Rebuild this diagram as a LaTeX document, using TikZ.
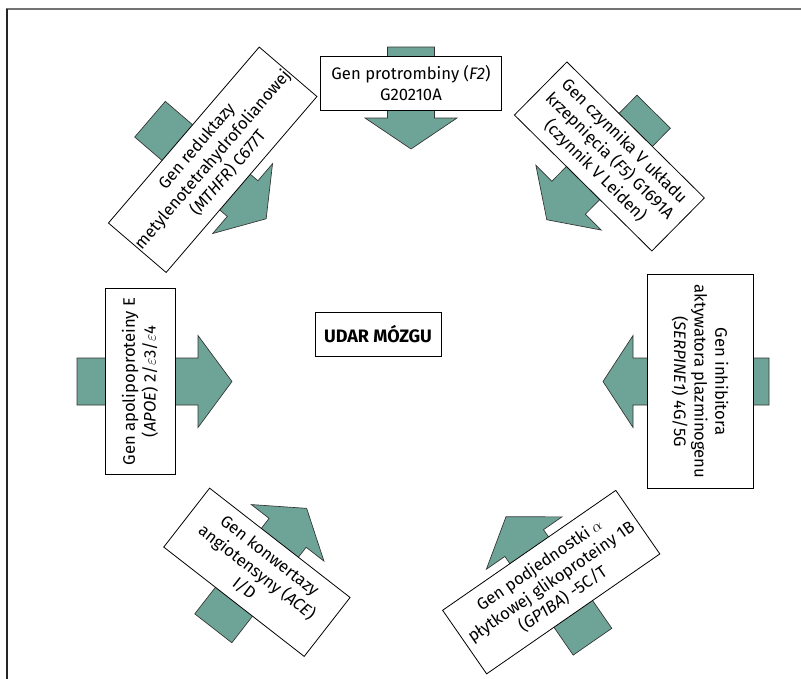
\documentclass[tikz,border=0pt]{standalone}
\usepackage{amsmath}
\usepackage{amssymb}
\usepackage{fontspec}
\setmainfont{Fira Sans}
\usepackage{tikz}

\definecolor{genteal}{RGB}{110,164,151}

% arrow through a gene box: #1 length, #2 head length
\newcommand{\genshape}[2]{\draw [arrowshape] (0,-23.5) -- ({#1-#2},-23.5) -- ({#1-#2},-46) -- (#1,0) -- ({#1-#2},46) -- ({#1-#2},23.5) -- (0,23.5) -- cycle ;}

\begin{document}
\begin{tikzpicture}[x=0.75pt,y=0.75pt,yscale=-1,
  arrowshape/.style={draw=black!80, line width=0.5pt, fill=genteal},
  genbox/.style={draw, line width=0.6pt, fill=white, align=center, inner sep=1pt, font=\fontsize{12.5}{15.5}\selectfont}]
\useasboundingbox (0,0) rectangle (801,679);

%Shape: Frame
\draw [color=black!55, line width=1.2pt] (6,9) -- (801,9) ;
\draw [color=black!85, line width=0.8pt] (7,9) -- (7,679) ;

% Text Node
\node [draw, line width=0.6pt, minimum width=94.5pt, minimum height=33pt, font=\bfseries\fontsize{13.5}{15}\selectfont] (udar) at (378,334) {UDAR MÓZGU};

%Shape: Arrow F2
\begin{scope}[shift={(411,47)}, rotate=90]
\genshape{102}{31}
% Text Node
\node [genbox, minimum width=135.75pt, minimum height=40.5pt] (f2) at (36,0) {Gen protrombiny (\textit{F2})\\G20210A};
\end{scope}

%Shape: Arrow MTHFR
\begin{scope}[shift={(150,119.2)}, rotate=40.6]
\genshape{153}{31}
% Text Node
\node [genbox, rotate=49.4, minimum width=170pt, minimum height=57pt] (mthfr) at (74,-10) {Gen reduktazy\\metylenotetrahydrofolianowej\\(\textit{MTHFR}) C677T};
\end{scope}

%Shape: Arrow F5
\begin{scope}[shift={(653.7,111.7)}, rotate=134.7]
\genshape{152}{31}
% Text Node
\node [genbox, rotate=-44.7, minimum width=145pt, minimum height=56pt] (f5) at (63,0) {Gen czynnika V układu\\krzepnięcia (\textit{F5}) G1691A\\(czynnik V Leiden)};
\end{scope}

%Shape: Arrow SERPINE1
\begin{scope}[shift={(769,381.5)}, rotate=180]
\genshape{166}{30}
% Text Node
\node [genbox, rotate=-90, minimum width=160pt, minimum height=79.5pt] (serpine) at (69,0) {Gen inhibitora\\aktywatora plazminogenu\\(\textit{SERPINE1}) 4G/5G};
\end{scope}

%Shape: Arrow GP1BA
\begin{scope}[shift={(592.5,641.7)}, rotate=-124.7]
\genshape{152}{32}
% Text Node
\node [genbox, rotate=34.7, minimum width=158pt, minimum height=58pt] (gpiba) at (72.5,0) {Gen podjednostki $\alpha$\\płytkowej glikoproteiny 1B\\(\textit{GP1BA}) -5C/T};
\end{scope}

%Shape: Arrow ACE
\begin{scope}[shift={(213.3,628.3)}, rotate=-52.1]
\genshape{152}{31}
% Text Node
\node [genbox, rotate=-37.9, minimum width=133.5pt, minimum height=56pt] (ace) at (71,0) {Gen konwertazy\\angiotensyny (\textit{ACE})\\I/D};
\end{scope}

%Shape: Arrow APOE
\begin{scope}[shift={(77,381.5)}, rotate=0]
\genshape{155}{34}
% Text Node
\node [genbox, rotate=90, minimum width=139pt, minimum height=52.5pt] (apoe) at (63,0) {Gen apolipoproteiny E\\(\textit{APOE}) 2/$\varepsilon$3/$\varepsilon$4};
\end{scope}

\end{tikzpicture}
\end{document}
